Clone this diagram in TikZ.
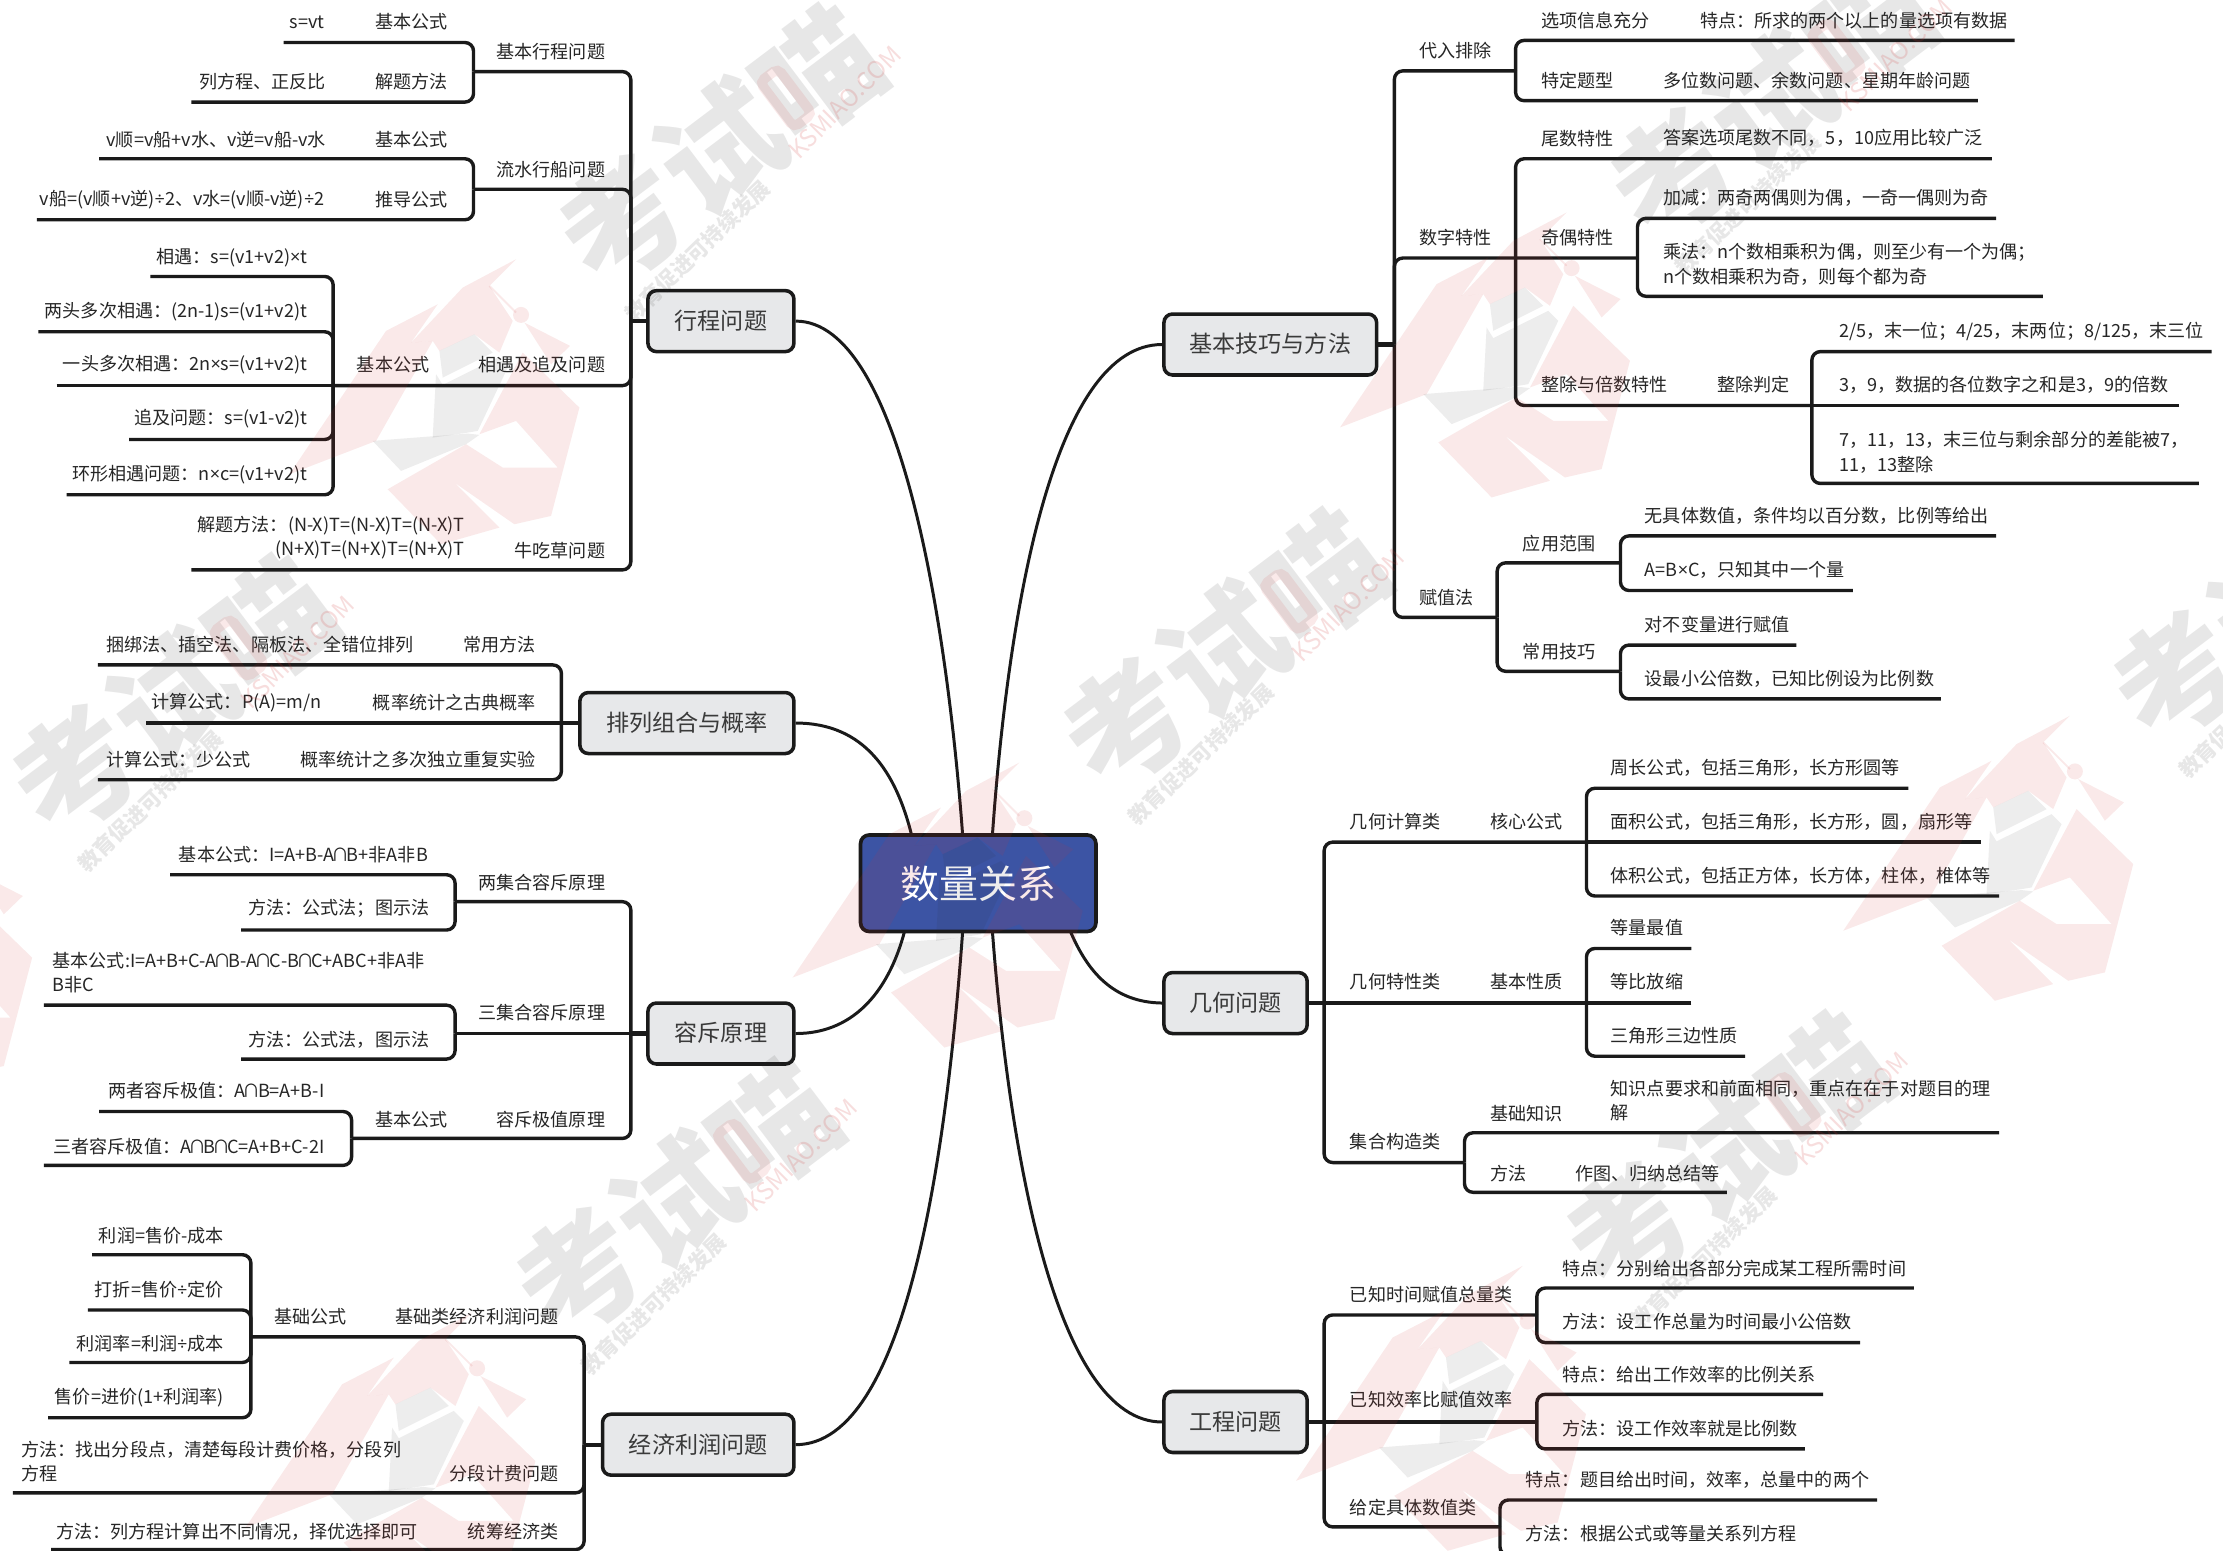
\documentclass[tikz,border=0pt]{standalone}
\usepackage{fontspec}
\setmainfont{Noto Sans CJK SC}
\newfontfamily\latf{Open Sans}
\newcommand{\cx}{{\latf ×}}
\newcommand{\dv}{{\latf ÷}}
\newcommand{\ca}{\hspace{-2.1pt}∩\hspace{-2.1pt}}
\definecolor{linec}{HTML}{1A1A1A}
\definecolor{textc}{HTML}{262626}
\definecolor{boxfill}{HTML}{E7E8EA}
\definecolor{boxtext}{HTML}{3A3A3A}
\definecolor{rootfill}{HTML}{3C54A4}
\definecolor{wmred}{HTML}{D03030}
\definecolor{wmgray}{HTML}{303030}
\tikzset{
  tx/.style={inner sep=0pt,text=textc,yshift=-.5pt,font=\fontsize{12.75}{17}\selectfont},
  txml/.style={tx,anchor=west,align=left},
  txmr/.style={tx,anchor=east,align=right},
  br/.style={draw=linec,line width=2.4pt,rounded corners=6pt},
  stem/.style={draw=linec,line width=3pt},
  curve/.style={draw=linec,line width=2.1pt},
  topic/.style={draw=linec,fill=boxfill,line width=2.5pt,rounded corners=6pt,text=boxtext,inner sep=0pt,text depth=.2em,font=\fontsize{16.3}{20}\selectfont},
  rootbox/.style={draw=linec,fill=rootfill,line width=2.6pt,rounded corners=6pt,text=white,inner sep=0pt,font=\fontsize{27.5}{32}\selectfont,minimum width=166pt,minimum height=68pt},
  wr/.style={fill=wmred,fill opacity=.1,draw=none},
  wg/.style={fill=wmgray,fill opacity=.085,draw=none},
  wtext/.style={text=wmgray,text opacity=.115,inner sep=0pt},
  wks/.style={text=wmred,text opacity=.16,inner sep=0pt}
}
\newcommand{\txR}[4]{\node[tx,anchor=east] (#1) at (#2,#3) {#4};}
\newcommand{\txL}[4]{\node[tx,anchor=west] (#1) at (#2,#3) {#4};}
\newcommand{\jt}[3]{\coordinate (#1) at (#2,#3);}
\newcommand{\linkB}[2]{\draw[br] (#1) -| (#2);}
\newcommand{\linkS}[2]{\draw[br] (#1) -- (#2);}
\begin{document}
\begin{tikzpicture}[x=1pt,y=-1pt]
\useasboundingbox (0,0) rectangle (1568,1094);
\clip (0,0) rectangle (1568,1094);
\fill[white] (0,0) rectangle (1568,1094);

% ---------- topics
\node[rootbox] (root) at (690,623) {数量关系};
\node[topic,minimum width=103pt,minimum height=43pt] (xc) at (508.5,226.5) {行程问题};
\node[topic,minimum width=151pt,minimum height=43pt] (pl) at (484.5,510) {排列组合与概率};
\node[topic,minimum width=103pt,minimum height=43pt] (rc) at (508.5,729) {容斥原理};
\node[topic,minimum width=135pt,minimum height=43pt] (jj) at (492.5,1019) {经济利润问题};
\node[topic,minimum width=150pt,minimum height=43pt] (jq) at (896,243) {基本技巧与方法};
\node[topic,minimum width=101pt,minimum height=43pt] (jh) at (871.5,707.5) {几何问题};
\node[topic,minimum width=101pt,minimum height=43pt] (gc) at (871.5,1003) {工程问题};

% ---------- root curves
\draw[curve] (xc.east) .. controls (635,226.5) and (668,440) .. (679,589);
\draw[curve] (pl.east) .. controls (610,510) and (632,545) .. (643,589);
\draw[curve] (rc.east) .. controls (605,729) and (628,695) .. (638,657);
\draw[curve] (jj.east) .. controls (640,1019) and (668,810) .. (679,657);
\draw[curve] (jq.west) .. controls (745,243) and (712,420) .. (700,589);
\draw[curve] (jh.west) .. controls (785,707) and (767,685) .. (755,657);
\draw[curve] (gc.west) .. controls (745,1003) and (712,815) .. (700,657);

% ---------- 行程问题
\jt{xcH}{445}{226.5}
\draw[stem] (xc.west) -- (xcH);
\jt{a1}{334}{50.5}\jt{a1x}{200}{30}\jt{a1y}{135}{72}
\linkB{a1}{xcH}\linkB{a1x}{a1}\linkB{a1y}{a1}
\txR{a1t}{427}{36}{基本行程问题}
\txR{a1a}{229}{15}{s=vt}\txR{a1b}{316}{15}{基本公式}
\txR{a1c}{230}{57}{列方程、正反比}\txR{a1d}{316}{57}{解题方法}
\jt{a2}{334}{133.5}\jt{a2x}{70}{112}\jt{a2y}{26}{155}
\linkB{a2}{xcH}\linkB{a2x}{a2}\linkB{a2y}{a2}
\txR{a2t}{427}{119}{流水行船问题}
\txR{a2a}{230}{98}{v顺=v船+v水、v逆=v船-v水}\txR{a2b}{316}{98}{基本公式}
\txR{a2c}{229}{140}{v船=(v顺+v逆)\dv 2、v水=(v顺-v逆)\dv 2}\txR{a2d}{316}{140}{推导公式}
\jt{a3}{235}{272}\jt{a3p}{106}{195}\jt{a3q}{27}{234}\jt{a3r}{40}{272}\jt{a3s}{91}{310}\jt{a3u}{47}{349}
\linkB{a3}{xcH}\linkB{a3p}{a3}\linkB{a3q}{a3}\linkS{a3r}{a3}\linkB{a3s}{a3}\linkB{a3u}{a3}
\txR{a3t}{427}{257}{相遇及追及问题}\txR{a3b}{303}{257}{基本公式}
\txR{a3c}{217}{181}{相遇：s=(v1+v2)\cx t}
\txR{a3d}{217}{219}{两头多次相遇：(2n-1)s=(v1+v2)t}
\txR{a3e}{217}{257}{一头多次相遇：2n\cx s=(v1+v2)t}
\txR{a3f}{217}{295}{追及问题：s=(v1-v2)t}
\txR{a3g}{217}{334}{环形相遇问题：n\cx c=(v1+v2)t}
\jt{a4}{135}{402}\linkB{a4}{xcH}
\txR{a4t}{427}{388}{牛吃草问题}
\node[txmr] (a4a) at (328,378.5) {解题方法：(N-X)T=(N-X)T=(N-X)T\\(N+X)T=(N+X)T=(N+X)T};

% ---------- 排列组合与概率
\jt{bH}{396}{510}\jt{b1}{69}{469}\jt{b2}{103}{510}\jt{b3}{69}{550}
\draw[stem] (pl.west) -- (bH);
\linkB{b1}{bH}\linkS{b2}{bH}\linkB{b3}{bH}
\txR{b1a}{378}{454}{常用方法}\txR{b1b}{292}{454}{捆绑法、插空法、隔板法、全错位排列}
\txR{b2a}{378}{495}{概率统计之古典概率}\txR{b2b}{227}{495}{计算公式：P(A)=m/n}
\txR{b3a}{378}{535}{概率统计之多次独立重复实验}\txR{b3b}{177}{535}{计算公式：少公式}

% ---------- 容斥原理
\jt{cH}{445}{729}
\draw[stem] (rc.west) -- (cH);
\jt{c1}{321}{636}\jt{c1x}{120}{617}\jt{c1y}{170}{656}
\linkB{c1}{cH}\linkB{c1x}{c1}\linkB{c1y}{c1}
\txR{c1t}{427}{622}{两集合容斥原理}
\txR{c1a}{302}{602}{基本公式：I=A+B-A\ca B+非A非B}\txR{c1b}{303}{640}{方法：公式法；图示法}
\jt{c2}{321}{729}\jt{c2x}{31}{709}\jt{c2y}{170}{747}
\linkS{c2}{cH}\linkB{c2x}{c2}\linkB{c2y}{c2}
\txR{c2t}{427}{714}{三集合容斥原理}
\node[txml] (c2a) at (37,685.5) {基本公式:I=A+B+C-A\ca B-A\ca C-B\ca C+ABC+非A非\\B非C};
\txR{c2b}{303}{733}{方法：公式法，图示法}
\jt{c3}{248}{803}\jt{c3x}{70}{784}\jt{c3y}{31}{822}
\linkB{c3}{cH}\linkB{c3x}{c3}\linkB{c3y}{c3}
\txR{c3t}{427}{789}{容斥极值原理}\txR{c3b}{316}{789}{基本公式}
\txR{c3c}{229}{769}{两者容斥极值：A\ca B=A+B-I}\txR{c3d}{229}{808}{三者容斥极值：A\ca B\ca C=A+B+C-2I}

% ---------- 经济利润问题
\jt{dH}{412}{1019}
\draw[stem] (jj.west) -- (dH);
\jt{d1}{177}{943}\jt{d1p}{65}{885}\jt{d1q}{62}{924}\jt{d1r}{49}{961}\jt{d1s}{34}{1000}
\linkB{d1}{dH}\linkB{d1p}{d1}\linkB{d1q}{d1}\linkB{d1r}{d1}\linkB{d1s}{d1}
\txR{d1t}{394}{928}{基础类经济利润问题}\txR{d1b}{245}{928}{基础公式}
\txR{d1c}{158}{871}{利润=售价-成本}\txR{d1d}{158}{909}{打折=售价\dv 定价}
\txR{d1e}{158}{947}{利润率=利润\dv 成本}\txR{d1f}{158}{985}{售价=进价(1+利润率)}
\jt{d2}{9}{1053}\linkB{d2}{dH}
\txR{d2t}{394}{1039}{分段计费问题}
\node[txml] (d2a) at (15,1030.5) {方法：找出分段点，清楚每段计费价格，分段列\\方程};
\jt{d3}{36}{1093}\linkB{d3}{dH}
\txR{d3t}{394}{1080}{统筹经济类}\txR{d3a}{295}{1080}{方法：列方程计算出不同情况，择优选择即可}

% ---------- 基本技巧与方法
\jt{eH}{983.5}{243}
\draw[stem] (jq.east) -- (eH);
\jt{e1}{1069}{50}\jt{e1x}{1421}{28.5}\jt{e1y}{1395}{71}
\linkB{e1}{eH}\linkB{e1x}{e1}\linkB{e1y}{e1}
\txL{e1t}{1001}{35}{代入排除}
\txL{e1a}{1087}{14}{选项信息充分}\txL{e1b}{1199}{14}{特点：所求的两个以上的量选项有数据}
\txL{e1c}{1087}{56}{特定题型}\txL{e1d}{1173}{56}{多位数问题、余数问题、星期年龄问题}
\jt{e2}{1069}{182}\jt{e2o}{1155}{182}\jt{e2x}{1405}{112}
\jt{e2p}{1408}{154}\jt{e2q}{1441}{209}
\linkB{e2o}{eH}\linkB{e2x}{e2}\linkB{e2p}{e2o}\linkB{e2q}{e2o}
\txL{e2t}{1001}{167}{数字特性}
\txL{e2a}{1087}{97}{尾数特性}\txL{e2b}{1173}{97}{答案选项尾数不同，5，10应用比较广泛}
\txL{e2c}{1087}{167}{奇偶特性}\txL{e2d}{1173}{139}{加减：两奇两偶则为偶，一奇一偶则为奇}
\node[txml] (e2e) at (1173,186) {乘法：n个数相乘积为偶，则至少有一个为偶；\\n个数相乘积为奇，则每个都为奇};
\jt{e3}{1278}{286}\jt{e3p}{1560}{248}\jt{e3q}{1537}{286}\jt{e3r}{1551}{341}
\linkB{e3}{e2}\linkB{e3p}{e3}\linkS{e3q}{e3}\linkB{e3r}{e3}
\txL{e3t}{1087}{271}{整除与倍数特性}\txL{e3b}{1211}{271}{整除判定}
\txL{e3c}{1297}{233}{2/5，末一位；4/25，末两位；8/125，末三位}
\txL{e3d}{1297}{271}{3，9，数据的各位数字之和是3，9的倍数}
\node[txml] (e3e) at (1297,318.5) {7，11，13，末三位与剩余部分的差能被7，\\11，13整除};
\jt{e4}{1056}{435.5}\linkB{e4}{eH}
\txL{e4t}{1001}{421}{赋值法}
\jt{e5}{1143}{397}\jt{e5x}{1408}{378}\jt{e5y}{1307}{416.5}
\linkB{e5}{e4}\linkB{e5x}{e5}\linkB{e5y}{e5}
\txL{e5t}{1074}{383}{应用范围}\txL{e5a}{1160}{363.5}{无具体数值，条件均以百分数，比例等给出}
\txL{e5b}{1160}{401.5}{A=B\cx C，只知其中一个量}
\jt{e6}{1143}{473.5}\jt{e6x}{1267}{455}\jt{e6y}{1369}{493}
\linkB{e6}{e4}\linkB{e6x}{e6}\linkB{e6y}{e6}
\txL{e6t}{1074}{459}{常用技巧}\txL{e6a}{1160}{440}{对不变量进行赋值}
\txL{e6b}{1160}{478}{设最小公倍数，已知比例设为比例数}

% ---------- 几何问题
\jt{fH}{934}{707.5}
\jt{f1}{1119}{594}\jt{f1x}{1346}{556}\jt{f1m}{1397}{594}\jt{f1y}{1410}{632}
\linkB{f1}{fH}\linkB{f1x}{f1}\linkS{f1m}{f1}\linkB{f1y}{f1}
\txL{f1t}{952}{579}{几何计算类}\txL{f1b}{1051}{579}{核心公式}
\txL{f1c}{1136}{541}{周长公式，包括三角形，长方形圆等}
\txL{f1d}{1136}{579}{面积公式，包括三角形，长方形，圆，扇形等}
\txL{f1e}{1136}{617}{体积公式，包括正方体，长方体，柱体，椎体等}
\jt{f2}{1119}{707.5}\jt{f2x}{1193}{669}\jt{f2m}{1193}{707.5}\jt{f2y}{1231}{745}
\draw[stem] (jh.east) -- (fH);
\linkS{fH}{f2}\linkB{f2x}{f2}\linkS{f2m}{f2}\linkB{f2y}{f2}
\txL{f2t}{952}{692}{几何特性类}\txL{f2b}{1051}{692}{基本性质}
\txL{f2c}{1136}{654}{等量最值}\txL{f2d}{1136}{692}{等比放缩}\txL{f2e}{1136}{730}{三角形三边性质}
\jt{f3}{1033}{820}\jt{f3x}{1410}{799}\jt{f3y}{1218}{841}
\linkB{f3}{fH}\linkB{f3x}{f3}\linkB{f3y}{f3}
\txL{f3t}{952}{805}{集合构造类}\txL{f3b}{1051}{785}{基础知识}
\node[txml] (f3c) at (1136,776) {知识点要求和前面相同，重点在在于对题目的理\\解};
\txL{f3d}{1051}{827}{方法}\txL{f3e}{1111}{827}{作图、归纳总结等}

% ---------- 工程问题
\jt{gH}{934}{1003}
\draw[stem] (gc.east) -- (gH);
\jt{g1}{1084}{927.5}\jt{g1x}{1350}{908.5}\jt{g1y}{1312}{947}
\linkB{g1}{gH}\linkB{g1x}{g1}\linkB{g1y}{g1}
\txL{g1t}{952}{913}{已知时间赋值总量类}
\txL{g1a}{1102}{894}{特点：分别给出各部分完成某工程所需时间}
\txL{g1b}{1102}{932}{方法：设工作总量为时间最小公倍数}
\jt{g2}{1084}{1003}\jt{g2x}{1286}{983.5}\jt{g2y}{1273}{1022}
\linkS{gH}{g2}\linkB{g2x}{g2}\linkB{g2y}{g2}
\txL{g2t}{952}{987}{已知效率比赋值效率}
\txL{g2a}{1102}{969}{特点：给出工作效率的比例关系}
\txL{g2b}{1102}{1007}{方法：设工作效率就是比例数}
\jt{g3}{1058}{1077}\jt{g3x}{1324}{1058}\jt{g3y}{1290}{1097}
\linkB{g3}{gH}\linkB{g3x}{g3}\linkB{g3y}{g3}
\txL{g3t}{952}{1063}{给定具体数值类}
\txL{g3a}{1076}{1043}{特点：题目给出时间，效率，总量中的两个}
\txL{g3b}{1076}{1081}{方法：根据公式或等量关系列方程}

% ---------- watermark
\foreach \ax/\ay/\wi in {364/157/p,719/512/q,1074/867/r,-22/545/s,333/900/u,1460/479/v,1105/124/w,688/1255/z}{
\begin{scope}[shift={(\ax,\ay)}]
  \begin{scope}[x=.2351pt,y=-.2351pt,shift={(-1110,55)}]
    \fill[wr] (720,270)--(875,190)--(795,305)--(860,300)--(690,600)--(430,700)--cycle;
    \fill[wr] (795,305)--(950,140)--(1110,55)--(1030,135)--(1100,240)--(1060,335)--(985,280)--(880,330)--(860,300)--cycle;
    \fill[wr] (1130,335)--(1300,500)--(1215,825)--(1105,850)--(925,725)--(1060,860)--(885,910)--(725,745)--(960,610)--(1070,680)--(1235,680)--(1110,540)--(1000,580)--cycle;
    \draw[draw=wmred,draw opacity=.1,line width=1.3pt] (1030,135)--(1110,215);
    \fill[wr] (1125,222) circle (24);
    \fill[wr] (1135,245)--(1272,315)--(1215,370)--cycle;
    \fill[wg] (880,330)--(985,280)--(1040,335)--(890,410)--cycle;
    \fill[wg] (890,432)--(1055,350)--(1085,380)--(995,570)--(965,575)--(860,590)--(870,400)--cycle;
    \fill[wg] (680,600)--(965,578)--(1000,582)--(960,610)--(765,690)--cycle;
  \end{scope}
  \node[wtext,rotate=37,font=\fontsize{86}{86}\bfseries\selectfont] (wm\wi) at (144,-53) {考试喵};
  \begin{scope}[shift={(144,-53)},rotate=37]
    \draw[draw=wmred,draw opacity=.1,line width=7pt,rounded corners=4pt] (50,-20) rectangle (66,20);
  \end{scope}
  \node[wtext,rotate=44,font=\fontsize{15}{15}\bfseries\selectfont] (we\wi) at (128,20) {教育促进可持续发展};
  \node[wks,rotate=45,font=\fontsize{17}{17}\selectfont] (wk\wi) at (232,-85) {KSMIAO.COM};
\end{scope}
}
\end{tikzpicture}
\end{document}
